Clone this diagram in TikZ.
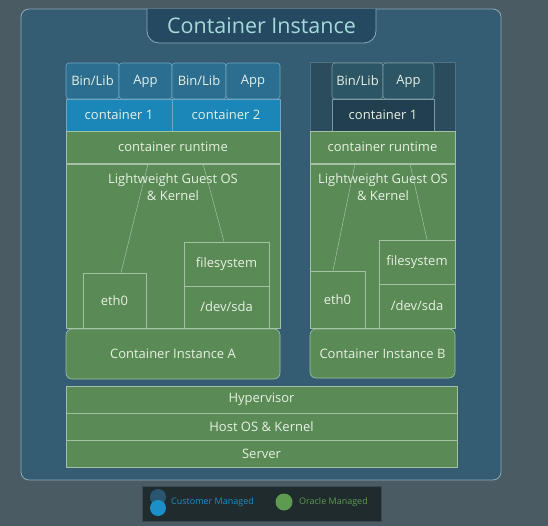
\documentclass[tikz,border=0pt]{standalone}
\usepackage{fontspec}
\setmainfont{Open Sans}
\definecolor{backgrey}{HTML}{4B5B64}
\definecolor{framefill}{HTML}{345D74}
\definecolor{frameedge}{HTML}{8FAAB6}
\definecolor{tabfill}{HTML}{244960}
\definecolor{tabtext}{HTML}{A6DADA}
\definecolor{oraclegreen}{HTML}{5A8A56}
\definecolor{greenedge}{HTML}{A3C2A4}
\definecolor{paletext}{HTML}{E8F0E4}
\definecolor{binblue}{HTML}{2B6E8F}
\definecolor{contblue}{HTML}{1B86B8}
\definecolor{blueedge}{HTML}{6FA6C2}
\definecolor{hostdark}{HTML}{2A4C5C}
\definecolor{bindark}{HTML}{2C5566}
\definecolor{contdark}{HTML}{213F4E}
\definecolor{darkedge}{HTML}{7A9AA2}
\definecolor{legendfill}{HTML}{1F2B2D}
\definecolor{custblue}{HTML}{1A8FC8}
\definecolor{custdark}{HTML}{2A5670}
\definecolor{legendgreen}{HTML}{5E9A50}
\tikzset{
  layer/.style={draw=greenedge, line width=0.6pt, fill=oraclegreen, text=paletext,
    inner sep=0pt, font=\fontsize{13}{15}\selectfont},
  binbox/.style={draw=blueedge, line width=0.6pt, fill=binblue, text=paletext,
    rounded corners=3pt, inner sep=0pt, minimum height=36pt, font=\fontsize{13}{15}\selectfont},
  contbox/.style={draw=blueedge, line width=0.6pt, fill=contblue, text=paletext,
    inner sep=0pt, minimum height=32pt, font=\fontsize{13}{15}\selectfont},
  wire/.style={draw=greenedge, line width=0.5pt}
}
\begin{document}
\begin{tikzpicture}[x=1pt, y=-1pt, line join=round]
\useasboundingbox[fill=backgrey] (0,0) rectangle (548,526);
% outer frame and title tab
\draw[draw=frameedge, fill=framefill, line width=0.8pt, rounded corners=8pt] (21,9) rectangle (501,480);
\draw[draw=frameedge, fill=tabfill, line width=0.8pt, rounded corners=12pt] (147,9) -- (147,43) -- (376,43) -- (376,9);
\node[text=tabtext, font=\fontsize{21.5}{24}\selectfont] (title) at (261.5,26) {Container Instance};

% container instance A
\node[binbox, minimum width=53pt] (binA1) at (92.5,81) {Bin/Lib};
\node[binbox, minimum width=53pt] (appA1) at (145.5,81) {App};
\node[binbox, minimum width=54pt] (binA2) at (199,81) {Bin/Lib};
\node[binbox, minimum width=54pt] (appA2) at (253,81) {App};
\node[contbox, minimum width=106pt] (contA1) at (119,115) {container 1};
\node[contbox, minimum width=108pt] (contA2) at (226,115) {container 2};
\node[layer, minimum width=214pt, minimum height=32pt] (rtA) at (173,147) {container runtime};
\node[layer, minimum width=214pt, minimum height=164pt] (osA) at (173,246) {};
\node[text=paletext, align=center, font=\fontsize{13}{17}\selectfont] (osAtxt) at (173,187) {Lightweight Guest OS\\\& Kernel};
\node[layer, minimum width=63pt, minimum height=55pt] (ethA) at (114.5,300.5) {eth0};
\node[layer, minimum width=85pt, minimum height=44pt] (fsA) at (226.5,264) {filesystem};
\node[layer, minimum width=85pt, minimum height=42pt] (sdaA) at (226.5,307) {/dev/sda};
\draw[wire] ([xshift=-25pt]osA.north) -- ([xshift=6.5pt]ethA.north);
\draw[wire] ([xshift=30pt]osA.north) -- ([xshift=-2.5pt]fsA.north);
\node[layer, rounded corners=6pt, minimum width=214pt, minimum height=50pt] (ciA) at (173,354) {Container Instance A};

% container instance B
\node[fill=hostdark, draw=darkedge!50!hostdark, line width=0.5pt, inner sep=0pt, minimum width=145pt, minimum height=69pt] (hostB) at (382.5,96.5) {};
\node[binbox, draw=darkedge, fill=bindark, minimum width=51pt] (binB) at (357.5,81) {Bin/Lib};
\node[binbox, draw=darkedge, fill=bindark, minimum width=51pt] (appB) at (408.5,81) {App};
\node[contbox, draw=darkedge, fill=contdark, minimum width=102pt] (contB) at (383,115) {container 1};
\node[layer, minimum width=145pt, minimum height=32pt] (rtB) at (382.5,147) {container runtime};
\node[layer, minimum width=145pt, minimum height=164pt] (osB) at (382.5,246) {};
\node[text=paletext, align=center, font=\fontsize{13}{17}\selectfont] (osBtxt) at (383,187) {Lightweight Guest OS\\\& Kernel};
\node[layer, minimum width=55pt, minimum height=57pt] (ethB) at (337.5,299.5) {eth0};
\node[layer, minimum width=76pt, minimum height=44pt] (fsB) at (417,262) {filesystem};
\node[layer, minimum width=76pt, minimum height=44pt] (sdaB) at (417,306) {/dev/sda};
\draw[wire] ([xshift=-27.5pt]osB.north) -- ([xshift=-4.5pt]ethB.north);
\draw[wire] ([xshift=27.5pt]osB.north) -- ([xshift=10pt]fsB.north);
\node[layer, rounded corners=6pt, minimum width=145pt, minimum height=49pt] (ciB) at (382.5,353.5) {Container Instance B};

% shared host layers
\node[layer, minimum width=391pt, minimum height=27pt] (hyp) at (261.5,399.5) {Hypervisor};
\node[layer, minimum width=391pt, minimum height=27pt] (hostos) at (261.5,426.5) {Host OS \& Kernel};
\node[layer, minimum width=391pt, minimum height=27pt] (server) at (261.5,453.5) {Server};

% legend
\draw[draw=backgrey!80!black, fill=legendfill] (142,486) rectangle (381,521);
\fill[custdark] (158,497) circle (8pt);
\fill[custblue] (158,508) circle (8pt);
\node[anchor=west, text=custblue, inner sep=0pt, font=\fontsize{9}{10}\selectfont] (custtxt) at (171,502) {Customer Managed};
\fill[legendgreen] (284,502) circle (8.5pt);
\node[anchor=west, text=legendgreen, inner sep=0pt, font=\fontsize{9}{10}\selectfont] (oratxt) at (299,502) {Oracle Managed};
\end{tikzpicture}
\end{document}
